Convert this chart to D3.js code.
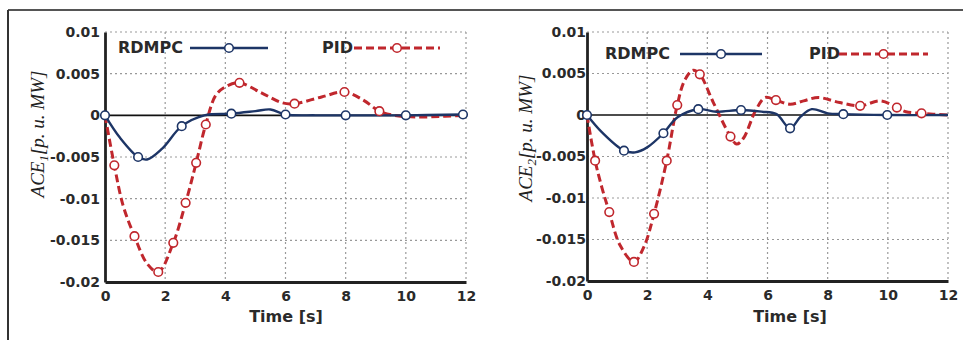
<!DOCTYPE html>
<html>
<head>
<meta charset="utf-8">
<script src="https://cdn.jsdelivr.net/npm/d3@7"></script>
<style>
  body { margin: 0; background: #fff; }
  svg { display: block; }
</style>
</head>
<body>
<div id="container"></div>
<script>
// ticks
const xTicks = [0, 2, 4, 6, 8, 10, 12];
const yTicks = [0.01, 0.005, 0, -0.005, -0.01, -0.015, -0.02];
const yTickLabels = ["0.01", "0.005", "0", "-0.005", "-0.01", "-0.015", "-0.02"];
const seriesNames = ["RDMPC", "PID"];

// area 1 : [time, ACE]
const ace1Rdmpc = [[0, 0], [0.5, -0.0027], [1.1, -0.0050], [1.4, -0.0053], [1.9, -0.0040], [2.55, -0.0013],
  [3.3, 0], [4.2, 0.0002], [5.0, 0.0005], [5.5, 0.0007], [6.0, 0.0001], [7.0, 0], [8.0, 0], [10.0, 0], [11.9, 0.0001], [12, 0.0001]];
const ace1RdmpcMarks = [0, 1.1, 2.55, 4.2, 6.0, 8.0, 10.0, 11.9];
const ace1Pid = [[0, 0], [0.31, -0.0060], [0.6, -0.0108], [0.98, -0.0145], [1.4, -0.0178], [1.77, -0.0188],
  [2.27, -0.0153], [2.68, -0.0105], [3.03, -0.0057], [3.35, -0.0011], [3.7, 0.0025], [4.1, 0.0036], [4.47, 0.0039],
  [5.2, 0.0027], [5.9, 0.0015], [6.3, 0.0014], [7.2, 0.0022], [7.96, 0.0028], [8.6, 0.0018], [9.12, 0.0005],
  [9.6, 0], [10.5, -0.0002], [11.3, -0.0001], [12, 0]];
const ace1PidMarks = [0.31, 0.98, 1.77, 2.27, 2.68, 3.03, 3.35, 4.47, 6.3, 7.96, 9.12];

// area 2
const ace2Rdmpc = [[0, 0], [0.5, -0.0021], [1.23, -0.0043], [1.6, -0.0045], [2.0, -0.0039], [2.54, -0.0022],
  [3.0, -0.0003], [3.7, 0.0007], [4.3, 0.0004], [5.12, 0.0006], [5.8, 0.0004], [6.3, 0.0001], [6.75, -0.0016],
  [7.1, -0.0002], [7.47, 0.0007], [8.0, 0.0002], [8.52, 0.0001], [9.98, 0], [12, 0]];
const ace2RdmpcMarks = [0, 1.23, 2.54, 3.7, 5.12, 6.75, 8.52, 9.98];
const ace2Pid = [[0, 0], [0.27, -0.0055], [0.5, -0.0088], [0.74, -0.0117], [1.1, -0.0157], [1.56, -0.0177],
  [1.9, -0.0158], [2.23, -0.0119], [2.65, -0.0055], [3.0, 0.0012], [3.25, 0.0042], [3.53, 0.0054], [3.75, 0.0049],
  [4.2, 0.0015], [4.77, -0.0026], [4.97, -0.0035], [5.2, -0.0028], [5.6, 0.0005], [5.92, 0.0021], [6.28, 0.0018],
  [6.75, 0.0013], [7.2, 0.0017], [7.69, 0.0021], [8.4, 0.0015], [9.08, 0.0011], [9.75, 0.0017], [10.3, 0.0009],
  [10.6, 0.0004], [11.12, 0.0002], [12, 0]];
const ace2PidMarks = [0.27, 0.74, 1.56, 2.23, 2.65, 3.0, 3.75, 4.77, 6.28, 9.08, 10.3, 11.12];

const W = 963, H = 340;
const blue = "#1d3566", red = "#c0272d";

const panels = [
  { sub: "1", x0: 105, x1: 466, y0: 32, y1: 282, lblOff: 5, ylab: [38, 134], xlab: 286,
    rdmpc: ace1Rdmpc, rdmpcMarks: ace1RdmpcMarks, pid: ace1Pid, pidMarks: ace1PidMarks,
    leg: { t1: 118, l1: [190, 268], t2: 322, l2: [354, 440], y: 48 } },
  { sub: "2", x0: 587, x1: 948, y0: 32, y1: 281, lblOff: 1, ylab: [526, 138], xlab: 790,
    rdmpc: ace2Rdmpc, rdmpcMarks: ace2RdmpcMarks, pid: ace2Pid, pidMarks: ace2PidMarks,
    leg: { t1: 605, l1: [680, 762], t2: 809, l2: [839, 928], y: 54 } }
];

const svg = d3.select("#container").append("svg")
  .attr("width", W).attr("height", H);

svg.append("rect").attr("width", W).attr("height", H).attr("fill", "#fff");

// outer frame (top and left)
svg.append("line").attr("x1", 8).attr("x2", W).attr("y1", 10).attr("y2", 10)
  .attr("stroke", "#555").attr("stroke-width", 2);
svg.append("line").attr("x1", 8).attr("x2", 8).attr("y1", 10).attr("y2", H)
  .attr("stroke", "#333").attr("stroke-width", 2);

function drawPanel(p) {
  const x = d3.scaleLinear().domain([0, 12]).range([p.x0, p.x1]);
  const y = d3.scaleLinear().domain([-0.02, 0.01]).range([p.y1, p.y0]);
  const g = svg.append("g");

  // dotted grid
  g.selectAll(".gx").data(xTicks.slice(1)).enter().append("line")
    .attr("x1", d => x(d)).attr("x2", d => x(d)).attr("y1", p.y0).attr("y2", p.y1)
    .attr("stroke", "#999").attr("stroke-width", 1.2).attr("stroke-dasharray", "2,3");
  g.selectAll(".gy").data(yTicks.filter(d => d !== 0 && d !== -0.02)).enter().append("line")
    .attr("x1", p.x0).attr("x2", p.x1).attr("y1", d => y(d)).attr("y2", d => y(d))
    .attr("stroke", "#999").attr("stroke-width", 1.2).attr("stroke-dasharray", "2,3");

  // zero line
  g.append("line").attr("x1", p.x0).attr("x2", p.x1).attr("y1", y(0)).attr("y2", y(0))
    .attr("stroke", "#111").attr("stroke-width", 1.6);

  // axes
  const xAxis = g.append("g").attr("transform", `translate(0,${p.y1})`)
    .call(d3.axisBottom(x).tickValues(xTicks).tickSize(0).tickPadding(9));
  const yAxis = g.append("g").attr("transform", `translate(${p.x0},0)`)
    .call(d3.axisLeft(y).tickValues(yTicks).tickSize(0).tickPadding(p.lblOff)
      .tickFormat((d, i) => yTickLabels[i]));
  [xAxis, yAxis].forEach(a => {
    a.select(".domain").attr("stroke", "#222").attr("stroke-width", 2.8);
    a.selectAll("text").attr("font-family", "DejaVu Sans, sans-serif").attr("font-weight", "bold")
      .attr("font-size", 14).attr("fill", "#2a2a2a");
  });

  const line = d3.line().x(d => x(d[0])).y(d => y(d[1])).curve(d3.curveCatmullRom.alpha(0.5));

  g.append("path").datum(p.pid).attr("d", line).attr("fill", "none")
    .attr("stroke", red).attr("stroke-width", 3).attr("stroke-dasharray", "8,4");
  g.append("path").datum(p.rdmpc).attr("d", line).attr("fill", "none")
    .attr("stroke", blue).attr("stroke-width", 2.4);

  const pick = (data, ts) => ts.map(t => data.find(d => d[0] === t));
  g.selectAll(".mp").data(pick(p.pid, p.pidMarks)).enter().append("circle")
    .attr("cx", d => x(d[0])).attr("cy", d => y(d[1])).attr("r", 4.3)
    .attr("fill", "#fff").attr("stroke", red).attr("stroke-width", 1.6);
  g.selectAll(".mr").data(pick(p.rdmpc, p.rdmpcMarks)).enter().append("circle")
    .attr("cx", d => x(d[0])).attr("cy", d => y(d[1])).attr("r", 4.3)
    .attr("fill", "#fff").attr("stroke", blue).attr("stroke-width", 1.6);

  // legend
  const L = p.leg;
  const lf = t => t.attr("font-family", "DejaVu Sans, sans-serif").attr("font-weight", "bold")
    .attr("font-size", 16).attr("fill", "#2a2a2a").attr("dominant-baseline", "middle");
  g.append("text").attr("x", L.t1).attr("y", L.y).text(seriesNames[0]).call(lf);
  g.append("text").attr("x", L.t2).attr("y", L.y).text(seriesNames[1]).call(lf);
  g.append("line").attr("x1", L.l1[0]).attr("x2", L.l1[1]).attr("y1", L.y).attr("y2", L.y)
    .attr("stroke", blue).attr("stroke-width", 2.4);
  g.append("circle").attr("cx", (L.l1[0] + L.l1[1]) / 2).attr("cy", L.y).attr("r", 4.3)
    .attr("fill", "#fff").attr("stroke", blue).attr("stroke-width", 1.6);
  g.append("line").attr("x1", L.l2[0]).attr("x2", L.l2[1]).attr("y1", L.y).attr("y2", L.y)
    .attr("stroke", red).attr("stroke-width", 3).attr("stroke-dasharray", "8,4");
  g.append("circle").attr("cx", (L.l2[0] + L.l2[1]) / 2).attr("cy", L.y).attr("r", 4.3)
    .attr("fill", "#fff").attr("stroke", red).attr("stroke-width", 1.6);

  // axis titles
  g.append("text").attr("x", p.xlab).attr("y", 322).attr("text-anchor", "middle")
    .attr("font-family", "DejaVu Sans, sans-serif").attr("font-weight", "bold")
    .attr("font-size", 16).attr("fill", "#2a2a2a").text("Time [s]");

  const yl = g.append("text")
    .attr("transform", `translate(${p.ylab[0] + 6},${p.ylab[1]}) rotate(-90)`)
    .attr("text-anchor", "middle").attr("font-family", "Liberation Serif, serif")
    .attr("font-style", "italic").attr("font-size", 19).attr("fill", "#222");
  yl.append("tspan").text("ACE");
  yl.append("tspan").attr("font-size", 13).attr("dy", 4).text(p.sub);
  yl.append("tspan").attr("dy", -4).text("[p. u. MW]");
}

panels.forEach(drawPanel);
</script>
</body>
</html>
